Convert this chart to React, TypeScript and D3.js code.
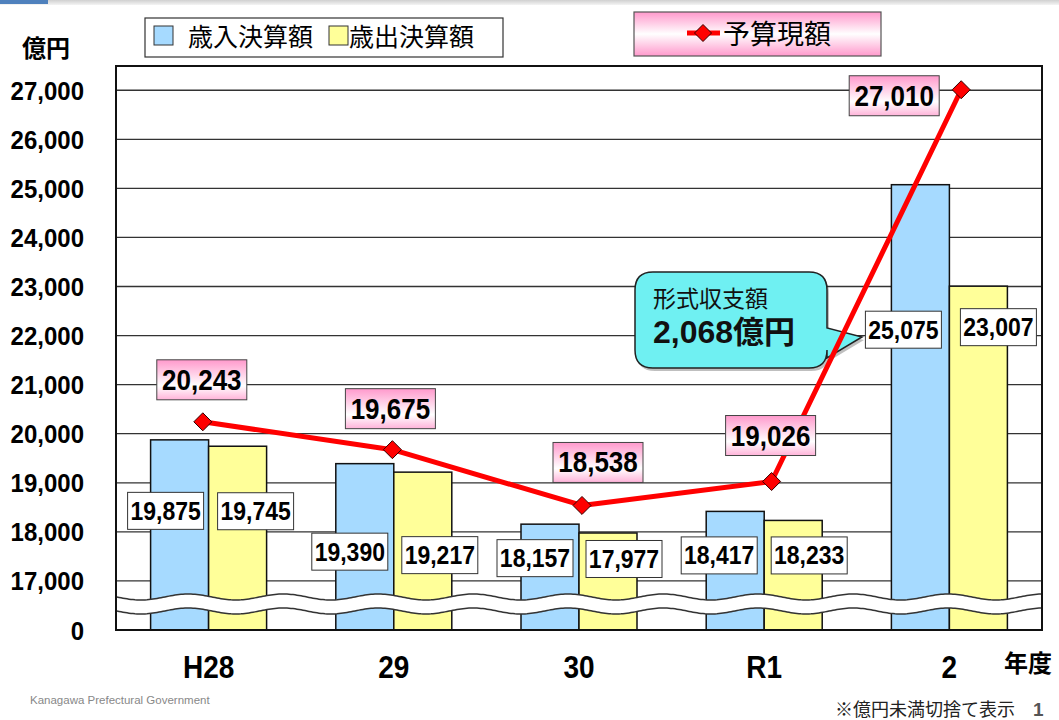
import React from "react";
import * as d3 from "d3";

const categories = ["H28", "29", "30", "R1", "2"];
const revenue = [19875, 19390, 18157, 18417, 25075];
const expenditure = [19745, 19217, 17977, 18233, 23007];
const budget = [20243, 19675, 18538, 19026, 27010];
const yTicks = [17000, 18000, 19000, 20000, 21000, 22000, 23000, 24000, 25000, 26000, 27000];

// label layout (pixel offsets), not data
const revLabelOff = [[-14, 71], [-15, 88], [-15, 34], [-16, 44], [-17, 145]];
const expLabelOff = [[18, 65], [17, 83], [16, 26], [16, 35], [20, 41]];
const budLabelOff = [[-1, -42], [-2, -41], [16, -43], [-1, -46], [-67, 6]];

const W = 1059, H = 720;
const L = 116, R = 1042, T = 66, B = 630;
const NUM = "'Liberation Sans', Arial, sans-serif";
const JP = "'Noto Sans CJK JP', 'Liberation Sans', sans-serif";
const BLUE = "#a6daff";
const YEL = "#ffff99";

function Num(props: { x: number; y: number; size: number; anchor?: string; sy?: number; children: React.ReactNode }) {
  const { x, y, size, anchor = "middle", sy = 1.1, children } = props;
  return (
    <text transform={`translate(${x},${y}) scale(1,${sy})`} textAnchor={anchor} fontFamily={NUM} fontWeight="bold" fontSize={size} fill="#000">
      {children}
    </text>
  );
}

export default function App() {
  const y = d3.scaleLinear().domain([16000, 27500]).range([B, 65.7]);
  const x = d3.scaleBand().domain(categories).range([L, R]);
  const xl = d3.scaleBand().domain(categories).range([108, 1056]);
  const bw = 58;
  const fmt = d3.format(",");
  const line = d3.line<number>().x((_, i) => xl(categories[i])! + xl.bandwidth() / 2).y((d) => y(d));

  const wave = (y0: number, dir: number) => {
    const pts: [number, number][] = [];
    for (let px = 117; px <= 1041; px += 2) pts.push([px, y0 + 3 * Math.sin((px - 117) / 95 * 2 * Math.PI)]);
    if (dir < 0) pts.reverse();
    return pts;
  };
  const top = wave(597, 1), bot = wave(611, -1);
  const bandPath = "M" + top.map((p) => p.join(",")).join("L") + "L" + bot.map((p) => p.join(",")).join("L") + "Z";
  const lineGen = d3.line();

  const diamond = (cx: number, cy: number, s: number) =>
    `M${cx},${cy - s}L${cx + s},${cy}L${cx},${cy + s}L${cx - s},${cy}Z`;

  const callout =
    "M653,272 H809 Q827,272 827,290 V328 L862,337 L827,358 V350 Q827,368 809,368 H653 Q635,368 635,350 V290 Q635,272 653,272 Z";

  return (
    <svg width={W} height={H} style={{ position: "absolute", left: 0, top: 0, background: "#fff" }}>
      <defs>
        <linearGradient id="pink" x1="0" y1="0" x2="0" y2="1">
          <stop offset="0" stopColor="#ff99cc" />
          <stop offset="0.65" stopColor="#ffffff" />
          <stop offset="1" stopColor="#ffb3d9" />
        </linearGradient>
        <linearGradient id="pink2" x1="0" y1="0" x2="0" y2="1">
          <stop offset="0" stopColor="#ff99cc" />
          <stop offset="0.5" stopColor="#ffffff" />
          <stop offset="1" stopColor="#ff99cc" />
        </linearGradient>
        <linearGradient id="hdr" x1="0" y1="0" x2="0" y2="1">
          <stop offset="0" stopColor="#d0d0d0" />
          <stop offset="1" stopColor="#f4f4f4" />
        </linearGradient>
      </defs>
      <rect x={0} y={0} width={W} height={5} fill="url(#hdr)" />
      <rect x={0} y={0} width={48} height={4} fill="#4f81bd" />

      {/* gridlines */}
      {yTicks.map((t) => (
        <line key={t} x1={L} x2={R} y1={y(t)} y2={y(t)} stroke="#333" strokeWidth={1.3} />
      ))}
      {/* y tick labels */}
      {yTicks.map((t) => (
        <Num key={"l" + t} x={84} y={y(t) + 9.5} size={24} anchor="end">{fmt(t)}</Num>
      ))}
      <Num x={84} y={B + 9.5} size={24} anchor="end">0</Num>

      {/* bars */}
      {categories.map((c, i) => {
        const cx = x(c)! + x.bandwidth() / 2;
        return (
          <g key={c}>
            <rect x={cx - bw} y={y(revenue[i])} width={bw} height={B - y(revenue[i])} fill={BLUE} stroke="#111" strokeWidth={1.5} />
            <rect x={cx} y={y(expenditure[i])} width={bw} height={B - y(expenditure[i])} fill={YEL} stroke="#111" strokeWidth={1.5} />
          </g>
        );
      })}

      {/* plot border */}
      <rect x={L} y={T} width={R - L} height={B - T} fill="none" stroke="#111" strokeWidth={2} />

      {/* axis break */}
      <path d={bandPath} fill="#fff" />
      <path d={lineGen(top)!} fill="none" stroke="#333" strokeWidth={1.5} />
      <path d={lineGen(bot.slice().reverse())!} fill="none" stroke="#333" strokeWidth={1.5} />

      {/* x labels */}
      {categories.map((c) => (
        <Num key={"x" + c} x={x(c)! + x.bandwidth() / 2} y={678} size={28}>{c}</Num>
      ))}
      <text x={1028} y={672} textAnchor="middle" fontFamily={JP} fontWeight="bold" fontSize={24}>年度</text>

      {/* bar labels */}
      {categories.map((c, i) => {
        const cx = x(c)! + x.bandwidth() / 2;
        const items = [
          { v: revenue[i], bx: cx - bw / 2 + revLabelOff[i][0], by: y(revenue[i]) + revLabelOff[i][1] },
          { v: expenditure[i], bx: cx + bw / 2 + expLabelOff[i][0], by: y(expenditure[i]) + expLabelOff[i][1] },
        ];
        return items.map((it, k) => (
          <g key={c + k}>
            <rect x={it.bx - 38} y={it.by - 18.5} width={76} height={37} fill="#fff" stroke="#333" strokeWidth={1} />
            <Num x={it.bx} y={it.by + 9} size={23}>{fmt(it.v)}</Num>
          </g>
        ));
      })}

      {/* callout */}
      <path d={callout} fill="#000" opacity={0.25} transform="translate(2,3)" />
      <path d={callout} fill="#6ff0f2" stroke="#222" strokeWidth={1.5} />
      <text x={653} y={307} fontFamily={JP} fontSize={23} fill="#111">形式収支額</text>
      <text x={653} y={343} fontFamily={NUM} fontWeight="bold" fontSize={32} fill="#111">
        2,068<tspan fontFamily={JP} fontSize={31}>億円</tspan>
      </text>

      {/* budget line */}
      <path d={line(budget)!} fill="none" stroke="#ff0000" strokeWidth={5} strokeLinejoin="round" />
      {budget.map((v, i) => {
        const cx = xl(categories[i])! + xl.bandwidth() / 2;
        return <path key={"d" + i} d={diamond(cx, y(v), 9)} fill="#ff0000" stroke="#300" strokeWidth={1} />;
      })}
      {budget.map((v, i) => {
        const cx = xl(categories[i])! + xl.bandwidth() / 2 + budLabelOff[i][0];
        const cy = y(v) + budLabelOff[i][1];
        return (
          <g key={"b" + i}>
            <rect x={cx - 45} y={cy - 20} width={90} height={40} fill="url(#pink)" stroke="#444" strokeWidth={1} />
            <Num x={cx} y={cy + 10} size={26}>{fmt(v)}</Num>
          </g>
        );
      })}

      {/* legends */}
      <rect x={145} y={18} width={358} height={39} fill="#fff" stroke="#333" strokeWidth={1.2} />
      <rect x={154} y={26} width={19} height={19} fill={BLUE} stroke="#333" strokeWidth={1} />
      <text x={188} y={46} fontFamily={JP} fontSize={25}>歳入決算額</text>
      <rect x={329} y={26} width={19} height={19} fill={YEL} stroke="#333" strokeWidth={1} />
      <text x={349} y={46} fontFamily={JP} fontSize={25}>歳出決算額</text>

      <rect x={634} y={12} width={247} height={44} fill="url(#pink2)" stroke="#555" strokeWidth={1.2} />
      <line x1={687} x2={720} y1={33} y2={33} stroke="#ff0000" strokeWidth={5} />
      <path d={diamond(703, 33, 8.5)} fill="#ff0000" stroke="#300" strokeWidth={1} />
      <text x={723} y={44} fontFamily={JP} fontSize={27}>予算現額</text>

      <text x={22} y={57} fontFamily={JP} fontWeight="bold" fontSize={24}>億円</text>

      {/* footer */}
      <text x={30} y={704} fontFamily="'Liberation Sans', Arial, sans-serif" fontSize={11.5} fill="#888">
        Kanagawa Prefectural Government
      </text>
      <text x={835} y={716} fontFamily={JP} fontSize={18} fill="#222">※億円未満切捨て表示</text>
      <text x={1033} y={716} fontFamily={NUM} fontWeight="bold" fontSize={19} fill="#555">1</text>
    </svg>
  );
}
